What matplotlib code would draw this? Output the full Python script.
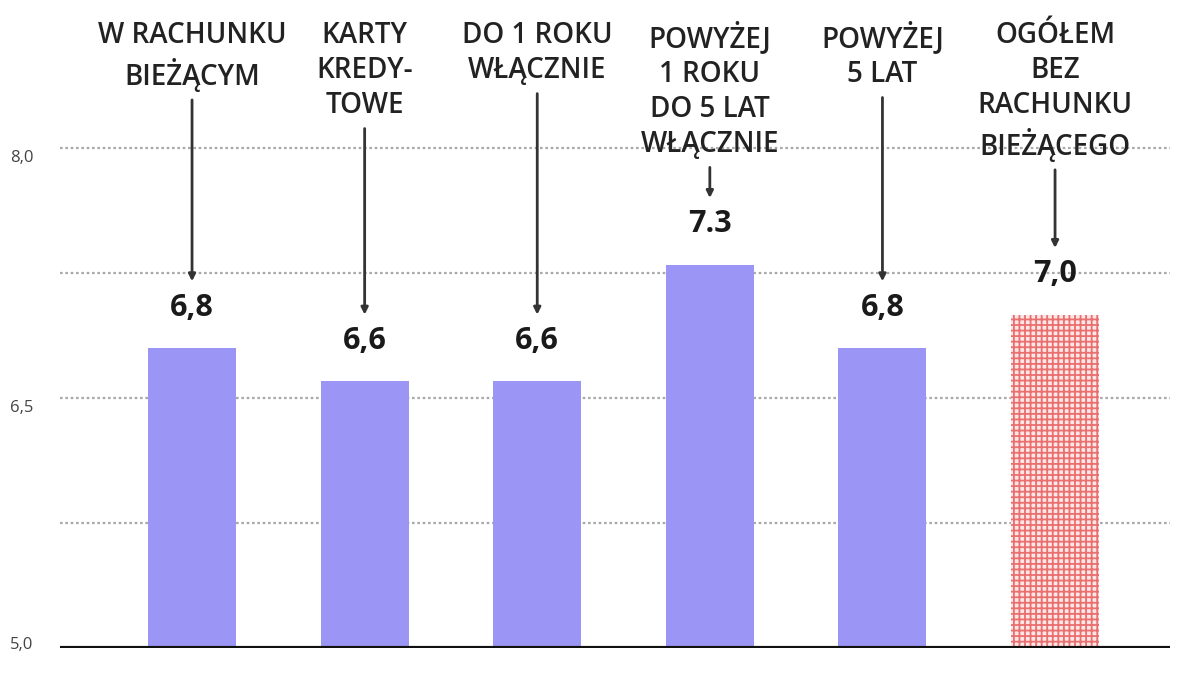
import matplotlib.pyplot as plt
import numpy as np

categories = ["W RACHUNKU\nBIEŻĄCYM", "KARTY\nKREDY-\nTOWE", "DO 1 ROKU\nWŁĄCZNIE",
              "POWYŻEJ\n1 ROKU\nDO 5 LAT\nWŁĄCZNIE", "POWYŻEJ\n5 LAT",
              "OGÓŁEM\nBEZ\nRACHUNKU\nBIEŻĄCEGO"]
values = [6.8, 6.6, 6.6, 7.3, 6.8, 7.0]
value_labels = ["6,8", "6,6", "6,6", "7.3", "6,8", "7,0"]
grid_vals = [5.75, 6.5, 7.25, 8.0]
tick_vals = [5.0, 6.5, 8.0]
tick_labels = ["5,0", "6,5", "8,0"]

plt.rcParams['font.family'] = ['Open Sans', 'DejaVu Sans']

fig = plt.figure(figsize=(12, 6.8), dpi=100)
ax = fig.add_axes([60/1200, 32/680, 1110/1200, 648/680])
ax.set_xlim(-0.765, 5.666)
ax.set_ylim(5.0, 8.888)

for g in grid_vals:
    ax.axhline(g, color='#aaaaaa', lw=1.6, ls=(0, (1.2, 1.2)), zorder=0)

x = np.arange(len(values))
ax.bar(x[:5], values[:5], width=0.51, color='#9b96f6', zorder=2)
plt.rcParams['hatch.linewidth'] = 1.3
ax.bar(x[5], values[5], width=0.51, facecolor='#fde6e6', edgecolor='#ea6f6f',
       hatch='+++', lw=0, zorder=2)

ax.axhline(5.0, color='#111111', lw=3, zorder=3)

for i, v in enumerate(values):
    ax.annotate(value_labels[i], xy=(i, v), xytext=(0, 29), textcoords='offset points',
                ha='center', va='center', fontsize=22, fontweight='bold', color='#1a1a1a')
    ax.annotate(categories[i], xy=(i, v), xytext=(i, 8.76), textcoords='data',
                ha='center', va='top', fontsize=20, fontweight='semibold', color='#222222',
                linespacing=1.27,
                arrowprops=dict(arrowstyle='-|>,head_length=0.2,head_width=0.1',
                                color='#333333', lw=2, shrinkA=4, shrinkB=48))

# tick labels sit slightly off their lines in the original
tick_offsets = [-3, 10, 10]
for t, lab, off in zip(tick_vals, tick_labels, tick_offsets):
    ypix = 648 - (t - 5.0) / 3 * 500 + off
    fig.text(22/1200, 1 - ypix / 680, lab, ha='center', va='center',
             fontsize=12, color='#444444')

for s in ax.spines.values():
    s.set_visible(False)
ax.set_xticks([])
ax.set_yticks([])

fig.savefig('out.png', dpi=100)
